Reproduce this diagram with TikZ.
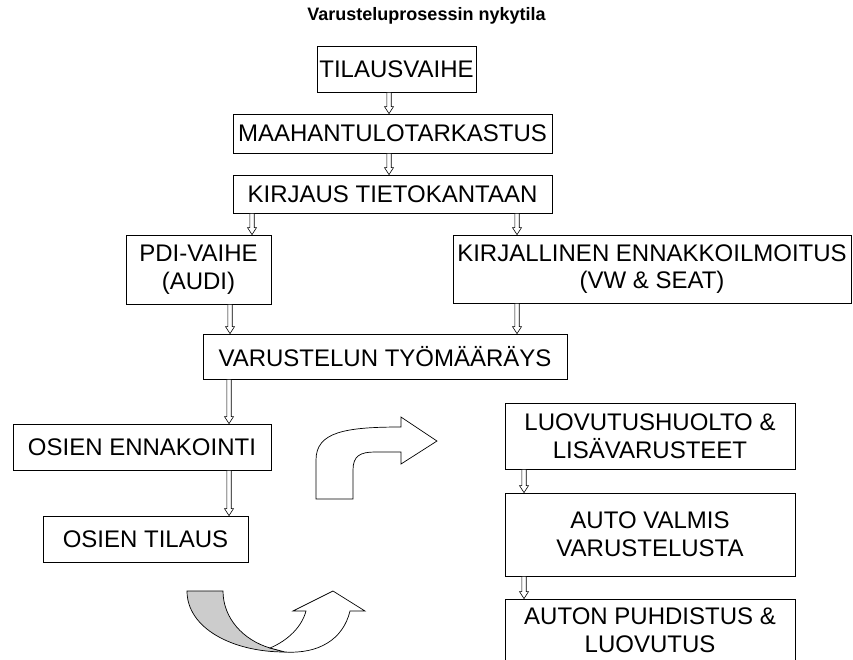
\documentclass[tikz,border=0pt]{standalone}
\usepackage{fontspec}
\setmainfont{Liberation Sans}
\usetikzlibrary{calc}
\begin{document}
\begin{tikzpicture}[x=1pt,y=-1pt,
  box/.style={draw=black, line width=0.8pt, fill=white, inner sep=0pt, align=center,
    font=\fontsize{24}{27.6}\selectfont},
  barrow/.style={draw=black, fill=white, line width=0.6pt,
    to path={let \p1=(\tikztostart), \p2=(\tikztotarget) in
      (\x1-2.2pt,\y1) -- (\x1-2.2pt,\y2+7pt) -- (\x1-4.5pt,\y2+7pt) -- (\x1,\y2)
      -- (\x1+4.5pt,\y2+7pt) -- (\x1+2.2pt,\y2+7pt) -- (\x1+2.2pt,\y1) -- cycle}},
  shapeline/.style={draw=black, line width=0.7pt, line join=miter}]
\path[use as bounding box, clip] (0,0) rectangle (853,659);
\fill[white] (0,0) rectangle (853,659);

\node[font=\bfseries\fontsize{18}{20}\selectfont] (title) at (426.5,16) {Varusteluprosessin nykytila};

\node[box, minimum width=159, minimum height=46] (tilaus) at (396.5,69) {TILAUSVAIHE};
\node[box, minimum width=319, minimum height=39] (maahan) at (392.5,133.5) {MAAHANTULOTARKASTUS};
\node[box, minimum width=319, minimum height=38] (kirjaus) at (392.5,194) {KIRJAUS TIETOKANTAAN};
\node[box, minimum width=145, minimum height=69] (pdi) at (198.5,269.5) {PDI-VAIHE\\(AUDI)};
\node[box, minimum width=398, minimum height=68] (kirjal) at (652,269) {KIRJALLINEN ENNAKKOILMOITUS\\(VW \& SEAT)};
\node[box, minimum width=364, minimum height=45] (varust) at (385,356.5) {VARUSTELUN TYÖMÄÄRÄYS};
\node[box, minimum width=258, minimum height=46] (osien1) at (142,447) {OSIEN ENNAKOINTI};
\node[box, minimum width=205, minimum height=46] (osien2) at (145.5,539) {OSIEN TILAUS};
\node[box, minimum width=290, minimum height=66] (luov) at (650,436) {LUOVUTUSHUOLTO \&\\LISÄVARUSTEET};
\node[box, minimum width=290, minimum height=83] (auto) at (650,534.5) {AUTO VALMIS\\VARUSTELUSTA};
\node[box, minimum width=290, minimum height=62] (auton) at (650,630) {AUTON PUHDISTUS \&\\LUOVUTUS};

\coordinate (c389) at (389,0);
\coordinate (c252) at (252,0);
\coordinate (c517) at (517,0);
\coordinate (c230) at (230,0);
\coordinate (c229) at (229,0);
\coordinate (c524) at (524,0);

\draw[barrow] (tilaus.south -| c389) to (maahan.north -| c389);
\draw[barrow] (maahan.south -| c389) to (kirjaus.north -| c389);
\draw[barrow] (kirjaus.south -| c252) to (pdi.north -| c252);
\draw[barrow] (kirjaus.south -| c517) to (kirjal.north -| c517);
\draw[barrow] (pdi.south -| c230) to (varust.north -| c230);
\draw[barrow] (kirjal.south -| c517) to (varust.north -| c517);
\draw[barrow] (varust.south -| c229) to (osien1.north -| c229);
\draw[barrow] (osien1.south -| c229) to (osien2.north -| c229);
\draw[barrow] (luov.south -| c524) to (auto.north -| c524);
\draw[barrow] (auto.south -| c524) to (auton.north -| c524);

% bent-up arrow
\draw[shapeline, fill=white] (316,499) -- (316,460) .. controls (316,432) and (345,427) .. (401,427)
  -- (401,417) -- (437,441) -- (401,464) -- (401,452) -- (375,452)
  .. controls (360,452) and (353,456) .. (353,470) -- (353,499) -- cycle;

% curved U-turn arrow
\draw[shapeline, fill=black!20] (187,591) -- (223,591) .. controls (223,618) and (243,640) .. (270,648)
  -- (285,652) .. controls (232,652) and (187,628) .. (187,591) -- cycle;
\draw[shapeline, fill=white] (270,648) .. controls (289,640) and (302,626) .. (306,611)
  -- (293,611) -- (333,591) -- (365,611) -- (350,611)
  .. controls (343,640) and (318,654) .. (285,652) -- cycle;
\end{tikzpicture}
\end{document}
